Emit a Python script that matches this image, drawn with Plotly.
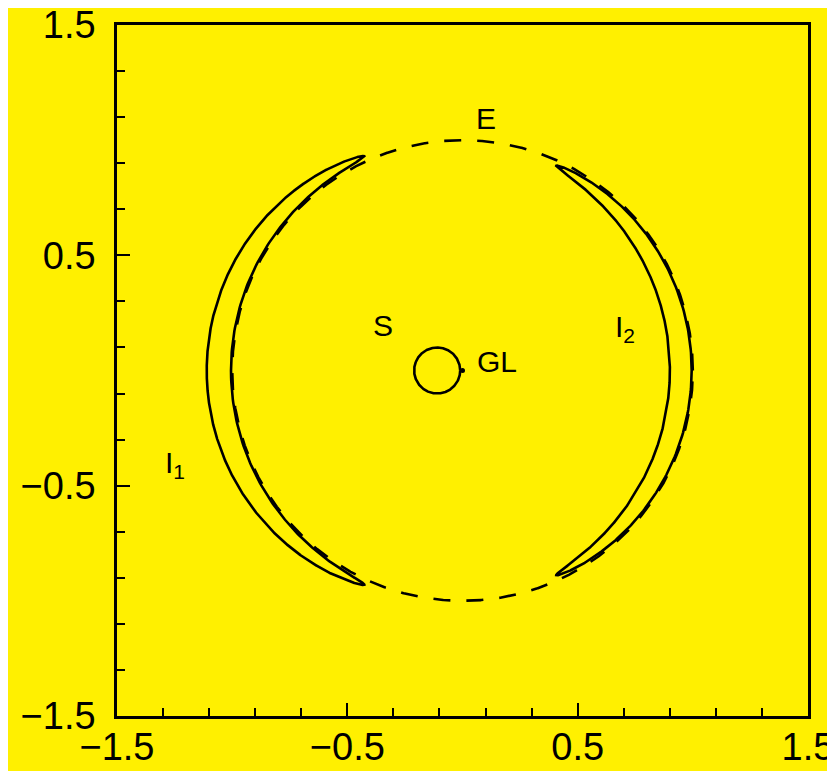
import numpy as np
import plotly.graph_objects as go

# ---- values ----
einstein_radius = 1.0            # dashed ring E
lens_x, lens_y = [0.0], [0.0]    # lens GL
source_center = [-0.11, 0.0]     # source S centre
source_radius = 0.10             # source S radius

tick_vals = [-1.5, -0.5, 0.5, 1.5]
tick_text = ["\u22121.5", "\u22120.5", "0.5", "1.5"]

label_text = ["E", "S", "GL", "I<sub>2</sub>", "I<sub>1</sub>"]
label_x = [0.103, -0.344, 0.150, 0.706, -1.247]
label_y = [1.096, 0.197, 0.037, 0.184, -0.410]

# ---- geometry ----
t = np.linspace(0, 2 * np.pi, 4001)
ring_x = einstein_radius * np.cos(t)
ring_y = einstein_radius * np.sin(t)

src_x = source_center[0] + source_radius * np.cos(t)
src_y = source_center[1] + source_radius * np.sin(t)

# point-lens equation: theta = beta/2 * (1 +/- sqrt(1 + 4 thetaE^2/|beta|^2))
b = np.hypot(src_x, src_y)
f_plus = 0.5 * (1 + np.sqrt(1 + 4 * einstein_radius**2 / b**2))
f_minus = 0.5 * (1 - np.sqrt(1 + 4 * einstein_radius**2 / b**2))
img1_x, img1_y = src_x * f_plus, src_y * f_plus
img2_x, img2_y = src_x * f_minus, src_y * f_minus

line_c = "black"
lw = 2.6
fig = go.Figure()
fig.add_trace(go.Scatter(x=ring_x, y=ring_y, mode="lines",
                         line=dict(color=line_c, width=lw, dash="17px,16px")))
fig.add_trace(go.Scatter(x=img1_x, y=img1_y, mode="lines",
                         line=dict(color=line_c, width=lw)))
fig.add_trace(go.Scatter(x=img2_x, y=img2_y, mode="lines",
                         line=dict(color=line_c, width=lw)))
fig.add_trace(go.Scatter(x=src_x, y=src_y, mode="lines",
                         line=dict(color=line_c, width=lw)))
fig.add_trace(go.Scatter(x=lens_x, y=lens_y, mode="markers",
                         marker=dict(color=line_c, size=5)))

for txt, x, y in zip(label_text, label_x, label_y):
    fig.add_annotation(x=x, y=y, xref="x", yref="y", text=txt, showarrow=False,
                       font=dict(family="Liberation Sans, Arial, sans-serif",
                                 size=30, color="black"))

axis_common = dict(
    range=[-1.5, 1.5], showgrid=False, zeroline=False, automargin=False,
    showline=True, linecolor="black", linewidth=2.5, mirror=True,
    ticks="inside", ticklen=13, tickwidth=2, tickcolor="black",
    tickmode="array", tickvals=tick_vals, ticktext=tick_text,
    ticklabeloverflow="allow",
    minor=dict(ticks="inside", ticklen=8, tickwidth=2, tickcolor="black",
               tick0=-1.5, dtick=0.2),
    tickfont=dict(family="Liberation Sans, Arial, sans-serif", size=38, color="black"),
)

# the page body has an 8px margin, so the figure starts at (8, 8)
fig.update_layout(
    width=835, height=771, autosize=False,
    paper_bgcolor="#fff000", plot_bgcolor="#fff000",
    margin=dict(l=109, r=35, t=17, b=63),
    showlegend=False,
    xaxis=dict(**axis_common, ticklabelstandoff=-4),
    yaxis=dict(**axis_common, ticklabelstandoff=11),
)

fig.write_html("out.html")
